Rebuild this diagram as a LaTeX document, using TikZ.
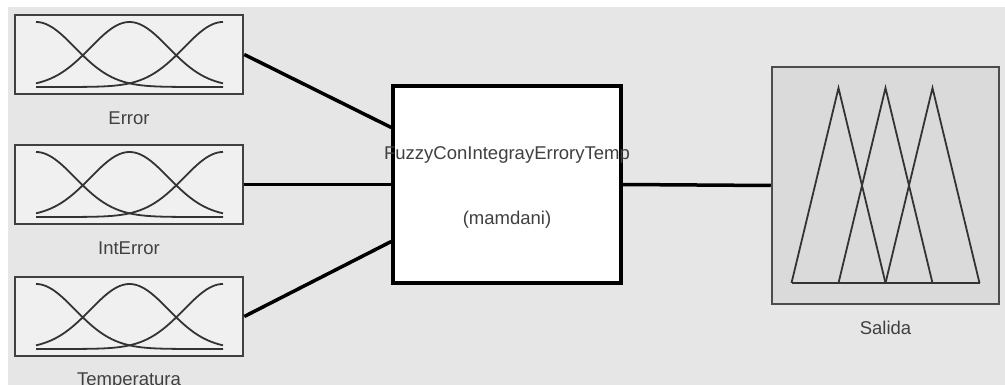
\documentclass[tikz,border=0pt]{standalone}
\usepackage{fontspec}
\setmainfont{Liberation Sans}
\usepackage{tikz}
\usetikzlibrary{positioning}
\definecolor{bggray}{HTML}{E6E6E6}
\definecolor{mfgray}{HTML}{F0F0F0}
\definecolor{outgray}{HTML}{DADADA}
\definecolor{txtgray}{HTML}{404040}
\tikzset{
  mfbox/.style={draw=black!75, line width=2.5pt, fill=mfgray, minimum width=228pt, minimum height=79pt, inner sep=0pt},
  sysbox/.style={draw=black, line width=3.5pt, fill=white, minimum width=228pt, minimum height=197pt, inner sep=0pt},
  outbox/.style={draw=black!70, line width=2.5pt, fill=outgray, minimum width=227pt, minimum height=237pt, inner sep=0pt},
  wire/.style={line width=3.5pt},
  mfline/.style={black!80, line width=1.8pt},
  lbl/.style={text=txtgray, font=\fontsize{18.5}{22}\selectfont, inner sep=0pt}
}
\begin{document}
\begin{tikzpicture}[x=1pt, y=-1pt]
    \useasboundingbox (0,0) rectangle (1005,385);
    \fill[bggray] (8,7) rectangle (1005,385);
    \node[mfbox] (err) at (129,54.5) {};
    \node[mfbox] (interr) at (129,184.5) {};
    \node[mfbox] (temp) at (129,316.5) {};
    \node[sysbox] (fis) at (507,184.5) {};
    \node[outbox] (sal) at (885.5,185.5) {};
    \node[lbl, anchor=base] (errlbl) at ([yshift=-29pt]err.south) {Error};
    \node[lbl, anchor=base] (interrlbl) at ([yshift=-29pt]interr.south) {IntError};
    \node[lbl, anchor=base] (templbl) at ([yshift=-28pt]temp.south) {Temperatura};
    \node[lbl, anchor=base] (sallbl) at ([yshift=-29pt]sal.south) {Salida};
    \node[lbl] (fisname) at ([yshift=29.5pt]fis.center) {FuzzyConIntegrayErroryTemp};
    \node[lbl] (fistype) at ([yshift=-35.5pt]fis.center) {(mamdani)};
    \foreach \b in {err,interr,temp}
      \foreach \c in {-93,0.5,94}
        \draw[mfline, shift={(\b.center)}] plot[domain=-93:94, samples=70, smooth]
          (\x, {32.5-65*exp(-0.5*((\x-\c)/39)^2)});
    \draw[mfline, shift={(sal.center)}] (-94,97.5) -- (94,97.5);
    \foreach \c in {-47,0,47}
      \draw[mfline, line join=miter, shift={(sal.center)}] (\c-47,97.5) -- (\c,-97.5) -- (\c+47,97.5);
    \draw[wire] (err.east) -- ([yshift=57pt]fis.west);
    \draw[wire] (interr.east) -- (fis.west);
    \draw[wire] (temp.east) -- ([yshift=-57pt]fis.west);
    \draw[wire] (fis.east) -- (sal.west);
  \end{tikzpicture}
\end{document}
